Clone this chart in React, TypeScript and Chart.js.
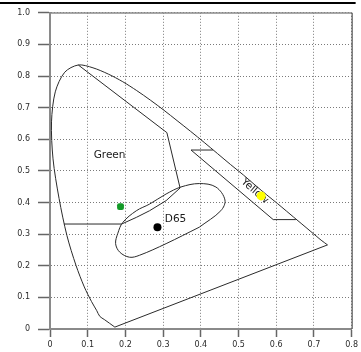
import React, { useEffect, useRef } from "react";
import { Chart, registerables } from "chart.js";

Chart.register(...registerables);

// Spectral locus (horseshoe)
const locusX = [0.172, 0.144, 0.132, 0.124, 0.110, 0.091, 0.069, 0.045, 0.024, 0.008, 0.004, 0.014, 0.039, 0.075, 0.114, 0.155, 0.193, 0.230, 0.266, 0.302, 0.337, 0.373, 0.409, 0.444, 0.479, 0.513, 0.545, 0.575, 0.603, 0.627, 0.666, 0.692, 0.708, 0.719, 0.736];
const locusY = [0.006, 0.030, 0.040, 0.058, 0.087, 0.133, 0.201, 0.295, 0.413, 0.538, 0.655, 0.750, 0.812, 0.835, 0.826, 0.806, 0.782, 0.754, 0.724, 0.692, 0.659, 0.625, 0.590, 0.555, 0.520, 0.487, 0.454, 0.424, 0.397, 0.373, 0.334, 0.308, 0.292, 0.281, 0.266];

// Purple line closing the horseshoe
const purpleX = [0.736, 0.172];
const purpleY = [0.266, 0.006];

// Green region boundary
const greenRegionX = [0.075, 0.310, 0.345, 0.308, 0.264, 0.229, 0.190, 0.037];
const greenRegionY = [0.835, 0.621, 0.446, 0.406, 0.374, 0.353, 0.332, 0.332];

// Yellow region boundary
const yellowRegionX = [0.432, 0.374, 0.592, 0.652];
const yellowRegionY = [0.566, 0.566, 0.346, 0.346];

// D65 region (closed loop)
const whiteRegionX = [0.396, 0.308, 0.237, 0.211, 0.185, 0.174, 0.180, 0.193, 0.229, 0.264, 0.308, 0.347, 0.396, 0.440, 0.464, 0.453, 0.396];
const whiteRegionY = [0.322, 0.270, 0.233, 0.227, 0.243, 0.270, 0.303, 0.337, 0.374, 0.395, 0.427, 0.449, 0.460, 0.449, 0.408, 0.374, 0.322];

// Sample points
const greenPoint = { x: 0.187, y: 0.387 };
const whitePoint = { x: 0.285, y: 0.322 };
const yellowPoint = { x: 0.560, y: 0.421 };

// Text labels
const labelTexts = ["Green", "D65", "Yellow"];
const labelX = [0.158, 0.333, 0.543];
const labelY = [0.549, 0.348, 0.436];
const labelAngle = [0, 0, 41];

// Tick values
const xTickValues = [0, 0.1, 0.2, 0.3, 0.4, 0.5, 0.6, 0.7, 0.8];
const yTickValues = [0, 0.1, 0.2, 0.3, 0.4, 0.5, 0.6, 0.7, 0.8, 0.9, 1.0];

const toPts = (xs: number[], ys: number[]) => xs.map((x, i) => ({ x, y: ys[i] }));
const fmt = (v: number) => (Math.abs(v) < 1e-9 ? "0" : v.toFixed(1));

const LINE = "#2a2a2a";

export default function App() {
  const ref = useRef<HTMLCanvasElement | null>(null);

  useEffect(() => {
    document.body.style.margin = "0";
    const canvas = ref.current;
    if (!canvas) return;

    const framePlugin = {
      id: "frame",
      beforeDatasetsDraw(chart: any) {
        const { ctx, chartArea, scales } = chart;
        ctx.save();
        ctx.strokeStyle = "#8a8a8a";
        ctx.lineWidth = 1.5;
        ctx.beginPath();
        ctx.moveTo(chartArea.left, chartArea.top + 0.25);
        ctx.lineTo(chartArea.right, chartArea.top + 0.25);
        ctx.stroke();
        ctx.strokeStyle = "#333";
        ctx.lineWidth = 1;
        ctx.beginPath();
        ctx.moveTo(chartArea.right + 0.5, chartArea.top);
        ctx.lineTo(chartArea.right + 0.5, chartArea.bottom);
        ctx.stroke();
        ctx.strokeStyle = "#000";
        ctx.lineWidth = 2;
        ctx.beginPath();
        ctx.moveTo(0, 3);
        ctx.lineTo(chartArea.right + 4, 3);
        ctx.stroke();

        ctx.fillStyle = "#1a1a1a";
        ctx.font = "10.5px 'DejaVu Sans'";
        ctx.textAlign = "center";
        ctx.textBaseline = "middle";
        labelTexts.forEach((t, i) => {
          const px = scales.x.getPixelForValue(labelX[i]);
          const py = scales.y.getPixelForValue(labelY[i]);
          ctx.save();
          ctx.translate(px, py);
          ctx.rotate((labelAngle[i] * Math.PI) / 180);
          ctx.fillText(t, 0, 0);
          ctx.restore();
        });
        ctx.restore();
      },
    };

    const lineDs = (pts: any[], tension = 0) => ({
      data: pts,
      showLine: true,
      borderColor: LINE,
      borderWidth: 1,
      pointRadius: 0,
      tension,
      clip: 6,
    });

    const chart = new Chart(canvas, {
      type: "scatter",
      data: {
        datasets: [
          {
            data: [yellowPoint],
            pointStyle: "circle",
            pointRadius: 4.5,
            backgroundColor: "#ffff00",
            borderColor: "#ffff00",
            borderWidth: 0,
          },
          {
            data: [whitePoint],
            pointStyle: "circle",
            pointRadius: 4,
            backgroundColor: "#000",
            borderColor: "#000",
            borderWidth: 0,
          },
          {
            data: [greenPoint],
            pointStyle: "rectRounded",
            pointRadius: 4,
            backgroundColor: "#139a27",
            borderColor: "#139a27",
            borderWidth: 0,
          },
          lineDs(toPts(locusX, locusY), 0.3),
          lineDs(toPts(purpleX, purpleY)),
          lineDs(toPts(greenRegionX, greenRegionY)),
          lineDs(toPts(yellowRegionX, yellowRegionY)),
          lineDs(toPts(whiteRegionX, whiteRegionY), 0.35),
        ] as any,
      },
      options: {
        animation: false,
        responsive: false,
        devicePixelRatio: 1,
        layout: { padding: { top: 11, right: 8, left: 0, bottom: 0 } },
        plugins: { legend: { display: false }, tooltip: { enabled: false } },
        scales: {
          x: {
            type: "linear",
            min: 0,
            max: 0.8,
            afterFit: (s: any) => {
              s.height = 23;
            },
            afterBuildTicks: (s: any) => {
              s.ticks = xTickValues.map((v) => ({ value: v }));
            },
            ticks: {
              autoSkip: false,
              maxRotation: 0,
              padding: 3,
              color: "#2a2a2a",
              font: { family: "'DejaVu Sans'", size: 8 },
              callback: (v: any) => fmt(Number(v)),
            },
            grid: {
              color: "#7a7a7a",
              lineWidth: 1,
              tickLength: 8,
              tickColor: "#666",
              tickWidth: 1.5,
              tickBorderDash: [],
            },
            border: { display: true, color: "#8a8a8a", width: 2, dash: [1, 2] },
          },
          y: {
            type: "linear",
            min: 0,
            max: 1.0,
            afterFit: (s: any) => {
              s.width = 50;
            },
            afterBuildTicks: (s: any) => {
              s.ticks = yTickValues.map((v) => ({ value: v }));
            },
            ticks: {
              autoSkip: false,
              padding: 8,
              color: "#2a2a2a",
              font: { family: "'DejaVu Sans'", size: 8 },
              callback: (v: any) => fmt(Number(v)),
            },
            grid: {
              color: "#7a7a7a",
              lineWidth: 1,
              tickLength: 12,
              tickColor: "#666",
              tickWidth: 1.5,
              tickBorderDash: [],
            },
            border: { display: true, color: "#8a8a8a", width: 2, dash: [1, 2] },
          },
        },
      },
      plugins: [framePlugin],
    } as any);

    return () => chart.destroy();
  }, []);

  return (
    <canvas
      ref={ref}
      width={361}
      height={352}
      style={{ display: "block", width: 361, height: 352 }}
    />
  );
}
